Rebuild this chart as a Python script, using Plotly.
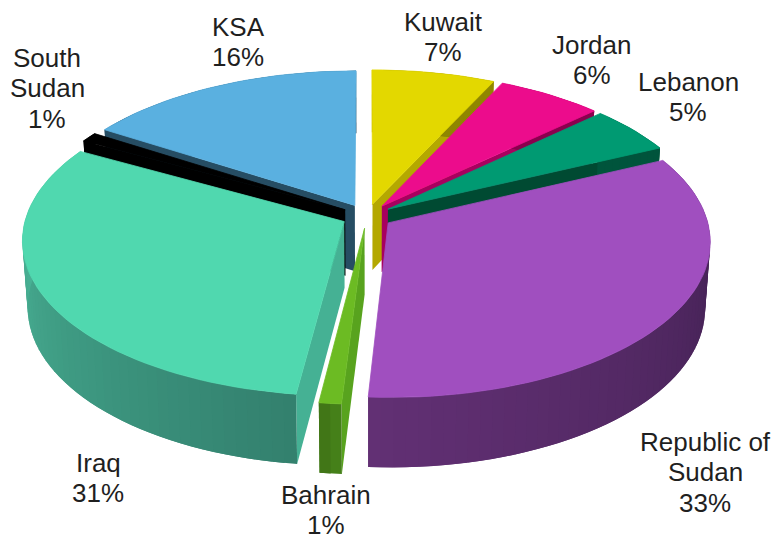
import math
import plotly.graph_objects as go

labels = ["Kuwait", "Jordan", "Lebanon", "Republic of<br>Sudan", "Bahrain", "Iraq", "South<br>Sudan", "KSA"]
shares = [7, 6, 5, 33, 1, 31, 1, 16]
top_colors = ["#E3D800", "#EC0C8C", "#009A72", "#A04FBF", "#6CBB23", "#50D8AF", "#000000", "#5AB0E0"]
cut_colors = ["#B4A800", "#A8005F", "#004A32", "#3E1F4E", "#58A31E", "#45B194", "#000000", "#264D63"]
wall_start = ["#8F8600", "#8A004E", "#00543C", "#3C1E4C", "#47851A", "#33806E", "#000000", "#264D63"]
wall_end = ["#8F8600", "#8A004E", "#00543C", "#623074", "#3F7116", "#4FC0A0", "#000000", "#264D63"]
label_x = [443, 592, 688, 705, 326, 98, 47, 238]
label_y = [37, 60, 97, 472, 510, 478, 88, 42]
paint_order = [0, 7, 1, 6, 2, 3, 5, 4]

CX, CY = 367.0, 216.0
RX, RY = 318.0, 152.5
PERSP_X, PERSP_Y, PERSP_D, DEPTH = 0.115, 0.1163, 0.055, 66.0
PULL = 0.08
BOTTOM_SCALE = 0.985
LINE_STEP = 30.5


def top(u, v):
    return CX + RX * u / (1 - PERSP_X * v), CY + RY * v / (1 - PERSP_Y * v)


def bottom(u, v):
    x, y = top(u, v)
    return CX + (x - CX) * BOTTOM_SCALE, y + DEPTH / (1 - PERSP_D * v)


def rim(a, du, dv):
    return du + math.sin(a), dv - math.cos(a)


def mix(c1, c2, t):
    a = [int(c1[i:i + 2], 16) for i in (1, 3, 5)]
    b = [int(c2[i:i + 2], 16) for i in (1, 3, 5)]
    return "rgb(%d,%d,%d)" % tuple(round(p + (q - p) * t) for p, q in zip(a, b))


def poly(points, color, width=0.0):
    xs = [p[0] for p in points] + [points[0][0]]
    ys = [p[1] for p in points] + [points[0][1]]
    return go.Scatter(x=xs, y=ys, mode="lines", fill="toself", fillcolor=color,
                      line=dict(color=color, width=width), hoverinfo="skip", showlegend=False)


total = sum(shares)
starts = [sum(shares[:i]) / total * 2 * math.pi for i in range(len(shares))]
fig = go.Figure()

for i in paint_order:
    a0 = starts[i]
    a1 = a0 + shares[i] / total * 2 * math.pi
    mid = (a0 + a1) / 2
    du, dv = PULL * math.sin(mid), -PULL * math.cos(mid)
    n = max(2, int((a1 - a0) / math.radians(2)))
    angles = [a0 + (a1 - a0) * k / n for k in range(n + 1)]
    rims = [rim(a, du, dv) for a in angles]
    # radial cut faces: only those that turn towards the viewer
    if math.sin(a0) < -1e-9:
        fig.add_trace(poly([top(du, dv), top(*rims[0]), bottom(*rims[0]), bottom(du, dv)], cut_colors[i]))
    if math.sin(a1) > 1e-9:
        fig.add_trace(poly([top(du, dv), top(*rims[-1]), bottom(*rims[-1]), bottom(du, dv)], cut_colors[i]))
    # outer wall, shaded strip by strip; each strip overlaps its neighbour to hide seams
    for k in range(n):
        p, q = rims[k], rims[min(k + 2, n)]
        fig.add_trace(poly([top(*p), top(*q), bottom(*q), bottom(*p)],
                           mix(wall_start[i], wall_end[i], (k + 0.5) / n)))
    # top face
    fig.add_trace(poly([top(du, dv)] + [top(*p) for p in rims], top_colors[i], width=0.8))

for name, share, x, y in zip(labels, shares, label_x, label_y):
    lines = name.split("<br>") + [f"{share}%"]
    for j, line in enumerate(lines):
        fig.add_annotation(x=x, y=y + (j - (len(lines) - 1) / 2) * LINE_STEP, text=line,
                           showarrow=False, xanchor="center", yanchor="middle",
                           font=dict(family="Liberation Sans", size=26, color="#1f1f1f"))

fig.update_layout(width=779, height=538, margin=dict(l=0, r=0, t=0, b=0),
                  paper_bgcolor="white", plot_bgcolor="white", showlegend=False,
                  xaxis=dict(range=[0, 779], visible=False, fixedrange=True),
                  yaxis=dict(range=[538, 0], visible=False, fixedrange=True))
fig.write_html("out.html", config={"displayModeBar": False},
               post_script="document.body.style.margin='0';")
